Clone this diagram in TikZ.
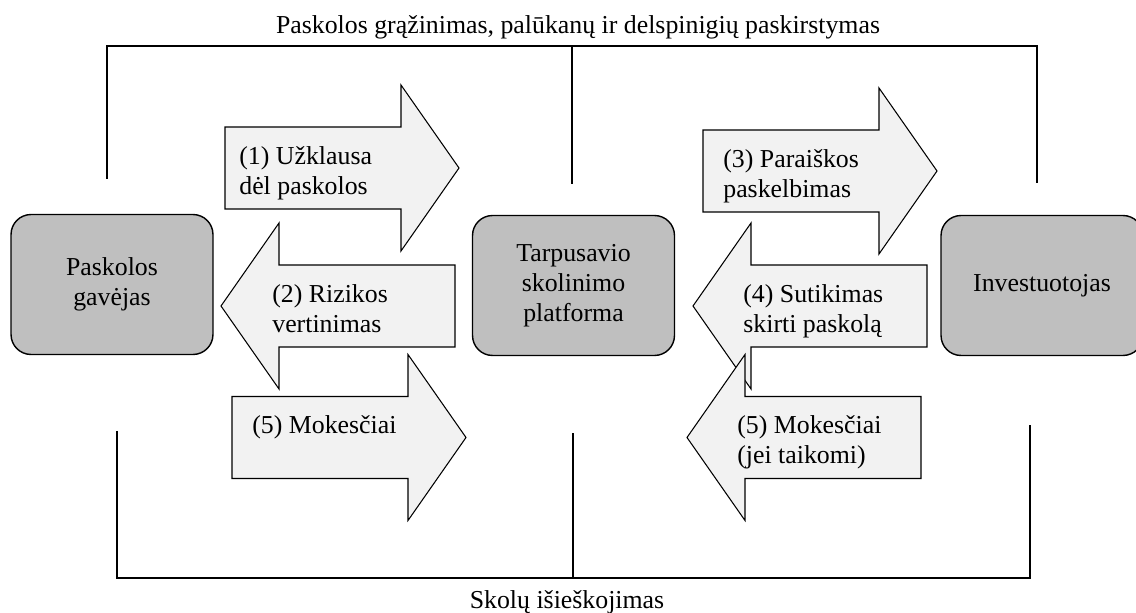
\documentclass[tikz,border=0pt]{standalone}
\usepackage{fontspec}
\setmainfont{Liberation Serif}
\usetikzlibrary{positioning}
\definecolor{boxgray}{RGB}{191,191,191}
\definecolor{arrowfill}{RGB}{242,242,242}
\tikzset{
  party/.style={draw, fill=boxgray, rounded corners=0.4cm, minimum width=4.04cm, minimum height=2.8cm, align=center, line width=0.8pt},
  flowarrow/.style={draw, fill=arrowfill, line width=0.6pt},
  flowtext/.style={anchor=north west, inner sep=0pt, align=left},
  bracket/.style={line width=0.6pt}
}
% name, tail x, centre y, direction, text x, text
\newcommand{\flowarrow}[6]{%
  \draw[flowarrow] (#2,#3+41) -- ++({(#4)*176},0) -- ++(0,42) -- ({#2+(#4)*234},#3)
    -- ({#2+(#4)*176},#3-83) -- ++(0,42) -- (#2,#3-41) -- cycle;
  \node[flowtext] (#1) at (#5,#3+22) {#6};
}

\begin{document}
\begin{tikzpicture}[x=0.02cm, y=0.02cm, font=\fontsize{14.7pt}{17pt}\selectfont]
  \useasboundingbox (0,0) rectangle (1136,612);

  % repayment bracket (top)
  \coordinate (topL) at (107,433);
  \coordinate (topM) at (572,428);
  \coordinate (topR) at (1037,429);
  \draw[bracket] (topL) |- (1037,566) -- (topR);
  \draw[bracket] (572,566) -- (topM);
  \node[anchor=base] (repay) at (578,578.5) {Paskolos grąžinimas, palūkanų ir delspinigių paskirstymas};

  % debt collection bracket (bottom)
  \coordinate (botL) at (117,181);
  \coordinate (botM) at (573,179);
  \coordinate (botR) at (1030,187);
  \draw[bracket] (botL) |- (1030,34) -- (botR);
  \draw[bracket] (573,34) -- (botM);
  \node[anchor=base] (collect) at (567,4) {Skolų išieškojimas};

  % parties
  \node[party] (borrower) at (112,327.5) {Paskolos\\gavėjas};
  \node[party] (platform) at (573.5,326.5) {Tarpusavio\\skolinimo\\platforma};
  \node[party] (investor) at (1042,326.5) {Investuotojas};

  % flows
  \flowarrow{request}{225}{444}{1}{239}{(1) Užklausa\\dėl paskolos}
  \flowarrow{risk}{455}{306}{-1}{272}{(2) Rizikos\\vertinimas}
  \flowarrow{feesL}{232}{174.5}{1}{252}{(5) Mokesčiai}
  \flowarrow{publish}{703}{441}{1}{723}{(3) Paraiškos\\paskelbimas}
  \flowarrow{consent}{927}{306}{-1}{743}{(4) Sutikimas\\skirti paskolą}
  \flowarrow{feesR}{921}{174.5}{-1}{737}{(5) Mokesčiai\\(jei taikomi)}
\end{tikzpicture}
\end{document}
